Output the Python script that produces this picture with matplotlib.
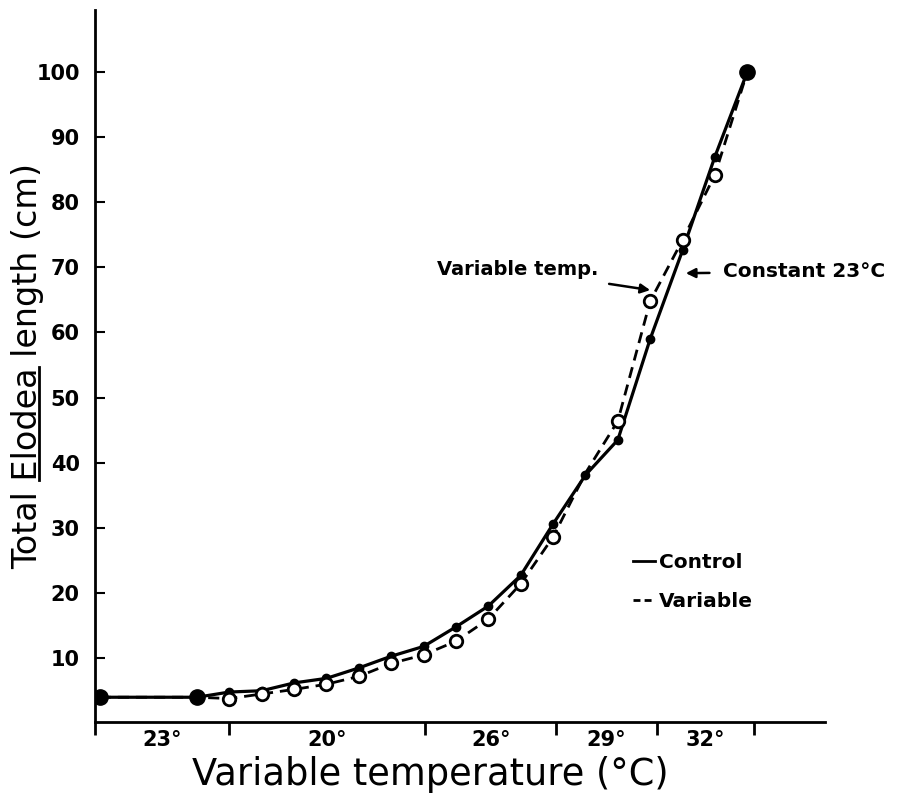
import matplotlib
matplotlib.use('Agg')
import matplotlib.pyplot as plt
from matplotlib.lines import Line2D

plt.rcParams['font.family'] = ['DejaVu Sans']

# Data (x = sampling position along the run, y = total length in cm)
samples = [0, 3, 4, 5, 6, 7, 8, 9, 10, 11, 12, 13, 14, 15, 16, 17, 18, 19, 20]
control = [4.0, 4.0, 4.8, 5.0, 6.2, 6.9, 8.5, 10.3, 11.8, 14.8, 18.0, 22.7,
           30.6, 38.1, 43.5, 59.0, 72.6, 87.0, 100.0]
variable = [4.0, 4.0, 3.8, 4.5, 5.2, 6.0, 7.2, 9.2, 10.5, 12.6, 16.0, 21.4,
            28.6, 38.4, 46.4, 64.8, 74.2, 84.2, 100.0]

# temperature periods on the x axis
period_edges = [-0.15, 4.0, 10.05, 14.1, 17.2, 20.2]
period_labels = ['23°', '20°', '26°', '29°', '32°']
yticks = [10, 20, 30, 40, 50, 60, 70, 80, 90, 100]

fig = plt.figure(figsize=(9.06, 8.05), dpi=100)
ax = fig.add_axes([95 / 906, 1 - 722 / 805, 730 / 906, 712 / 805])

# Control line
ax.plot(samples, control, color='black', lw=2.3, marker='o', ms=6,
        markevery=list(range(2, 18)), zorder=3)
ax.plot(samples, control, color='black', ls='none', marker='o', ms=11,
        markevery=[0, 1, 18], zorder=5)

# Variable line
var_line, = ax.plot(samples, variable, color='black', lw=2, ls='--',
                    marker='o', ms=9, mfc='white', mec='black', mew=2,
                    markevery=list(range(2, 13)) + [14, 15, 16, 17], zorder=4)
var_line.set_dashes([4, 2.5])

ax.set_xlim(-0.15, 22.4)
ax.set_ylim(0.2, 109.5)

ax.spines['top'].set_visible(False)
ax.spines['right'].set_visible(False)
ax.spines['left'].set_linewidth(2)
ax.spines['bottom'].set_linewidth(2)

ax.set_yticks(yticks)
ax.set_yticklabels([str(v) for v in yticks], fontsize=15, fontweight='bold')
ax.tick_params(axis='y', direction='in', length=7, width=1.5, pad=11)

ax.set_xticks(period_edges)
ax.set_xticklabels([''] * len(period_edges))
ax.tick_params(axis='x', which='major', direction='out', length=9, width=2)
mids = [(a + b) / 2 for a, b in zip(period_edges[:-1], period_edges[1:])]
ax.set_xticks(mids, minor=True)
ax.set_xticklabels(period_labels, minor=True, fontsize=15, fontweight='bold')
ax.tick_params(axis='x', which='minor', length=0, pad=6)

ax.set_xlabel('Variable temperature (°C)', fontsize=26.5)
ax.xaxis.set_label_coords(0.459, -0.048)
ylab = ax.set_ylabel('Total Elodea length (cm)', fontsize=24)
ylab.set_va('center')
ax.yaxis.set_label_coords(-0.092, 0.5)

# Annotations
arrow = dict(arrowstyle='-|>', color='black', lw=1.8, shrinkA=8, shrinkB=0,
             mutation_scale=14)
ax.annotate('Variable temp.', xy=(17.0, 66.5), xytext=(15.39, 69.6),
            ha='right', va='center', fontsize=14, fontweight='bold',
            arrowprops=arrow)
ax.annotate('Constant 23°C', xy=(18.1, 69.1), xytext=(19.26, 69.3),
            ha='left', va='center', fontsize=14.5, fontweight='bold',
            arrowprops=arrow)

# Legend
handles = [Line2D([], [], color='black', lw=2),
           Line2D([], [], color='black', lw=2, ls=(0, (2.5, 1.5)))]
ax.legend(handles, ['Control', 'Variable'], loc='upper left',
          bbox_to_anchor=(0.737, 0.237), frameon=False, handlelength=1.1,
          handletextpad=0.2, labelspacing=1.0, borderpad=0, borderaxespad=0,
          prop={'weight': 'bold', 'size': 14.5})

# underline "Elodea" in the y label
fig.canvas.draw()
r = fig.canvas.get_renderer()
bb = ylab.get_window_extent(r)
tmp = fig.text(0, 0, 'Total Elodea', fontsize=24)
w_a = tmp.get_window_extent(r).width
tmp.set_text('Elodea')
w_b = tmp.get_window_extent(r).width
tmp.remove()
ux = bb.x1 - 5
y0 = bb.y0 + (w_a - w_b)
y1 = bb.y0 + w_a
inv = fig.transFigure.inverted()
(fx0, fy0), (fx1, fy1) = inv.transform([(ux, y0), (ux, y1)])
fig.add_artist(Line2D([fx0, fx1], [fy0, fy1], color='black', lw=2,
                      transform=fig.transFigure))

fig.savefig('out.png', dpi=100)
